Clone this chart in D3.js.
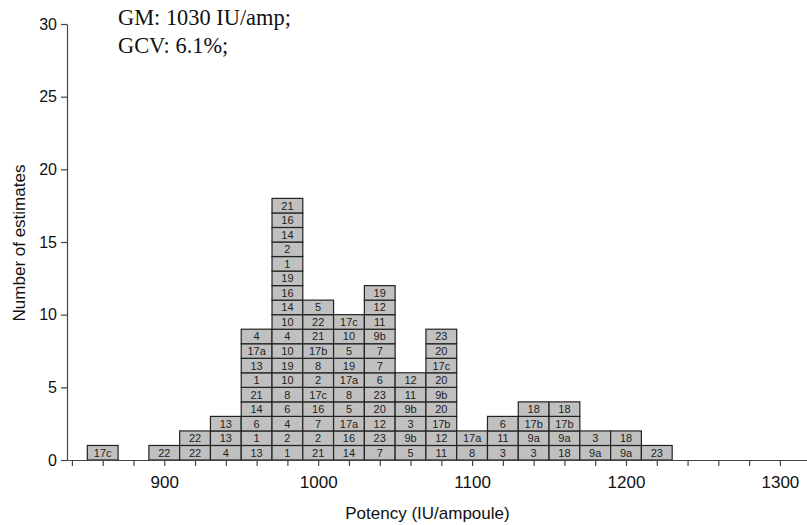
<!DOCTYPE html>
<html>
<head>
<meta charset="utf-8">
<script src="https://cdn.jsdelivr.net/npm/d3@7"></script>
<style>
  html, body { margin: 0; padding: 0; background: #fff; }
  svg { display: block; }
</style>
</head>
<body>
<svg id="chart" width="807" height="525"></svg>
<script>
// ---- data ----
const binCenters = [860, 900, 920, 940, 960, 980, 1000, 1020, 1040, 1060, 1080, 1100, 1120, 1140, 1160, 1180, 1200, 1220];
// labels of each stacked estimate, bottom to top
const stackLabels = [
  ["17c"],
  ["22"],
  ["22", "22"],
  ["4", "13", "13"],
  ["13", "1", "6", "14", "21", "1", "13", "17a", "4"],
  ["1", "2", "4", "6", "8", "10", "19", "10", "4", "10", "14", "16", "19", "1", "2", "14", "16", "21"],
  ["21", "2", "7", "16", "17c", "2", "8", "17b", "21", "22", "5"],
  ["14", "16", "17a", "5", "8", "17a", "19", "5", "10", "17c"],
  ["7", "23", "12", "20", "23", "6", "7", "7", "9b", "11", "12", "19"],
  ["5", "9b", "3", "9b", "11", "12"],
  ["11", "12", "17b", "20", "9b", "20", "17c", "20", "23"],
  ["8", "17a"],
  ["3", "11", "6"],
  ["3", "9a", "17b", "18"],
  ["18", "9a", "17b", "18"],
  ["9a", "3"],
  ["9a", "18"],
  ["23"]
];
const binWidth = 20;
const xTicks = d3.range(840, 1301, 20);
const xTickLabels = [900, 1000, 1100, 1200, 1300];
const yTicks = [0, 5, 10, 15, 20, 25, 30];
const annotations = ["GM: 1030 IU/amp;", "GCV: 6.1%;"];
const xTitle = "Potency (IU/ampoule)";
const yTitle = "Number of estimates";

// ---- scales ----
const svg = d3.select("#chart");
const x = d3.scaleLinear().domain([836.8, 1317.6]).range([67, 807]);
const y = d3.scaleLinear().domain([0, 30]).range([460, 24]);

// ---- cells ----
const cells = [];
binCenters.forEach((c, i) => {
  stackLabels[i].forEach((lab, j) => cells.push({ c, j, lab }));
});

const g = svg.append("g");
g.selectAll("rect.cell").data(cells).enter().append("rect")
  .attr("class", "cell")
  .attr("x", d => x(d.c - binWidth / 2))
  .attr("y", d => y(d.j + 1))
  .attr("width", d => x(d.c + binWidth / 2) - x(d.c - binWidth / 2))
  .attr("height", d => y(d.j) - y(d.j + 1))
  .attr("fill", "#c0c0c0")
  .attr("stroke", "#222")
  .attr("stroke-width", 1.2);

g.selectAll("text.cl").data(cells).enter().append("text")
  .attr("class", "cl")
  .attr("x", d => x(d.c))
  .attr("y", d => (y(d.j) + y(d.j + 1)) / 2 + 4)
  .attr("text-anchor", "middle")
  .attr("font-family", "Liberation Sans, Arial, sans-serif")
  .attr("font-size", 11)
  .attr("fill", "#222")
  .text(d => d.lab);

// ---- axes ----
const xAxis = d3.axisBottom(x)
  .tickValues(xTicks)
  .tickSize(6)
  .tickSizeOuter(0)
  .tickPadding(10)
  .tickFormat(d => xTickLabels.includes(d) ? d : "");
const gx = svg.append("g").attr("transform", "translate(0,460)").call(xAxis);
gx.select(".domain").attr("stroke", "#444").attr("stroke-width", 1.2);
gx.selectAll(".tick line").attr("stroke", "#444").attr("stroke-width", 1.2);
gx.selectAll(".tick text").attr("font-family", "Liberation Sans, Arial, sans-serif")
  .attr("font-size", 17).attr("fill", "#111");

const yAxis = d3.axisLeft(y)
  .tickValues(yTicks)
  .tickSize(6)
  .tickSizeOuter(0)
  .tickPadding(4);
const gy = svg.append("g").attr("transform", "translate(67,0)").call(yAxis);
gy.select(".domain").attr("stroke", "#444").attr("stroke-width", 1.2);
gy.selectAll(".tick line").attr("stroke", "#444").attr("stroke-width", 1.2);
gy.selectAll(".tick text").attr("font-family", "Liberation Sans, Arial, sans-serif")
  .attr("font-size", 16).attr("fill", "#111");

// ---- titles ----
svg.append("text")
  .attr("x", x(1071))
  .attr("y", 519)
  .attr("text-anchor", "middle")
  .attr("font-family", "Liberation Sans, Arial, sans-serif")
  .attr("font-size", 17)
  .attr("fill", "#111")
  .text(xTitle);

svg.append("text")
  .attr("transform", "translate(25,243) rotate(-90)")
  .attr("text-anchor", "middle")
  .attr("font-family", "Liberation Sans, Arial, sans-serif")
  .attr("font-size", 17)
  .attr("fill", "#111")
  .text(yTitle);

svg.selectAll("text.ann").data(annotations).enter().append("text")
  .attr("class", "ann")
  .attr("x", 118)
  .attr("y", (d, i) => 25 + i * 28)
  .attr("font-family", "Liberation Serif, Times New Roman, serif")
  .attr("font-size", 22.4)
  .attr("fill", "#111")
  .text(d => d);
</script>
</body>
</html>
